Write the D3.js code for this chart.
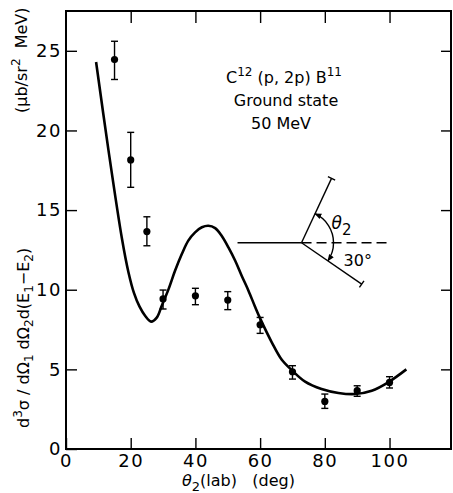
<!DOCTYPE html>
<html>
<head>
<meta charset="utf-8">
<script src="https://cdn.jsdelivr.net/npm/d3@7"></script>
<style>
  body { margin: 0; background: white; }
  text { font-family: "DejaVu Sans", sans-serif; fill: black; white-space: pre; }
</style>
</head>
<body>
<div class="container"></div>
<script>
// measured points with error bars
const angles = [15, 20, 25, 30, 40, 50, 60, 70, 80, 90, 100];
const crossSection = [24.45, 18.15, 13.65, 9.42, 9.62, 9.35, 7.80, 4.85, 2.99, 3.66, 4.18];
const errLow = [23.2, 16.43, 12.76, 8.79, 9.06, 8.75, 7.26, 4.39, 2.55, 3.31, 3.83];
const errHigh = [25.6, 19.88, 14.58, 9.98, 10.09, 9.88, 8.26, 5.23, 3.45, 3.97, 4.54];

// theory curve
const curveAngle = [9.3, 13.1, 17.3, 19.3, 21.0, 22.7, 24.5, 26.3, 28.05, 29.6, 31.7, 33.7, 35.8, 37.8, 39.9, 42.0, 44.0, 46.1, 48.1, 50.2, 52.3, 54.3, 56.4, 58.4, 60.0, 63.6, 66.7, 69.8, 73.9, 79.0, 84.2, 89.3, 94.5, 99.6, 105.2];
const curveValue = [24.3, 18.8, 13.2, 11.1, 9.8, 8.95, 8.35, 8.0, 8.25, 9.0, 10.04, 11.19, 12.24, 13.08, 13.6, 13.92, 14.02, 13.87, 13.39, 12.66, 11.82, 10.88, 9.94, 8.95, 8.2, 6.7, 5.6, 4.95, 4.23, 3.77, 3.52, 3.45, 3.66, 4.19, 5.0];

const xTicks = [0, 20, 40, 60, 80, 100];
const yTicks = [0, 5, 10, 15, 20, 25];

const margin = {top: 11, bottom: 44, right: 2, left: 66},
width = 453 - margin.left - margin.right,
height = 493 - margin.top - margin.bottom;

const svg = d3.select(".container")
  .append("svg")
  .attr("width", width + margin.left + margin.right)
  .attr("height", height + margin.top + margin.bottom);

const group = svg.append("g")
  .attr("transform", `translate(${margin.left},${margin.top})`);

const x_scale = d3.scaleLinear().domain([0, 119]).range([0, width]);
const y_scale = d3.scaleLinear().domain([0, 27.5]).range([height, 0]);

// axes, ticks point inward
group.append("g")
  .attr("transform", `translate(0,${height})`)
  .call(d3.axisBottom(x_scale).tickValues(xTicks).tickSize(-11).tickPadding(5))
  .call(g => g.select(".domain").remove());

group.append("g")
  .call(d3.axisLeft(y_scale).tickValues(yTicks).tickSize(-11).tickPadding(4))
  .call(g => g.select(".domain").remove());

group.append("g")
  .call(d3.axisTop(x_scale).tickValues(xTicks.slice(1)).tickSize(-12).tickFormat(""))
  .call(g => g.select(".domain").remove());

group.append("g")
  .attr("transform", `translate(${width},0)`)
  .call(d3.axisRight(y_scale).tickValues(yTicks.slice(1)).tickSize(-10).tickFormat(""))
  .call(g => g.select(".domain").remove());

group.selectAll(".tick line").attr("stroke", "black").attr("stroke-width", 1.4);
group.selectAll(".tick text")
  .attr("font-size", 18)
  .attr("letter-spacing", 1.5)
  .attr("fill", "black");

group.append("rect")
  .attr("width", width)
  .attr("height", height)
  .attr("fill", "none")
  .attr("stroke", "black")
  .attr("stroke-width", 2);

// curve
const line = d3.line()
  .curve(d3.curveCatmullRom)
  .x(i => x_scale(curveAngle[i]))
  .y(i => y_scale(curveValue[i]));

group.append("path")
  .datum(d3.range(curveAngle.length))
  .attr("fill", "none")
  .attr("stroke", "black")
  .attr("stroke-width", 2.6)
  .attr("stroke-linejoin", "round")
  .attr("d", line);

// error bars + points
const pts = group.append("g")
  .selectAll("g")
  .data(d3.range(angles.length))
  .join("g")
  .attr("stroke", "black")
  .attr("stroke-width", 1.4);

pts.append("line")
  .attr("x1", i => x_scale(angles[i])).attr("x2", i => x_scale(angles[i]))
  .attr("y1", i => y_scale(errLow[i])).attr("y2", i => y_scale(errHigh[i]));
pts.append("line")
  .attr("x1", i => x_scale(angles[i]) - 3.5).attr("x2", i => x_scale(angles[i]) + 3.5)
  .attr("y1", i => y_scale(errLow[i])).attr("y2", i => y_scale(errLow[i]));
pts.append("line")
  .attr("x1", i => x_scale(angles[i]) - 3.5).attr("x2", i => x_scale(angles[i]) + 3.5)
  .attr("y1", i => y_scale(errHigh[i])).attr("y2", i => y_scale(errHigh[i]));
pts.append("circle")
  .attr("cx", i => x_scale(angles[i]))
  .attr("cy", i => y_scale(crossSection[i]))
  .attr("r", 3.6)
  .attr("fill", "black")
  .attr("stroke", "none");

// reaction label
const note = group.append("g")
  .attr("font-size", 16)
  .attr("text-anchor", "middle");
const t1 = note.append("text").attr("x", 218).attr("y", 72);
t1.append("tspan").text("C");
t1.append("tspan").attr("font-size", 12).attr("dy", -7).text("12");
t1.append("tspan").attr("dy", 7).text(" (p, 2p) B");
t1.append("tspan").attr("font-size", 12).attr("dy", -7).text("11");
note.append("text").attr("x", 220).attr("y", 95).text("Ground state");
note.append("text").attr("x", 215).attr("y", 118).text("50 MeV");

// kinematics inset
const vx = x_scale(72.8), vy = y_scale(12.95);
const r = 32, upA = 65 * Math.PI / 180, loA = 34.5 * Math.PI / 180;
const inset = group.append("g").attr("stroke", "black").attr("stroke-width", 1.4).attr("fill", "none");

svg.append("defs").append("marker")
  .attr("id", "arrow")
  .attr("viewBox", "0 0 10 10")
  .attr("refX", 9).attr("refY", 5)
  .attr("markerWidth", 7).attr("markerHeight", 7)
  .attr("markerUnits", "userSpaceOnUse")
  .attr("orient", "auto")
  .append("path").attr("d", "M0,1L10,5L0,9Z").attr("fill", "black");

inset.append("line").attr("x1", vx - 64).attr("x2", vx).attr("y1", vy).attr("y2", vy);
inset.append("line").attr("x1", vx).attr("x2", vx + 89).attr("y1", vy).attr("y2", vy)
  .attr("stroke-dasharray", "10,5");

function arm(a, len) {
  const ex = vx + len * Math.cos(a), ey = vy - len * Math.sin(a);
  inset.append("line").attr("x1", vx).attr("y1", vy).attr("x2", ex).attr("y2", ey);
  const px = 4 * Math.sin(a), py = 4 * Math.cos(a);
  inset.append("line").attr("x1", ex - px).attr("y1", ey - py).attr("x2", ex + px).attr("y2", ey + py);
}
arm(upA, 71);
arm(-loA, 73);

inset.append("path")
  .attr("d", `M${vx + r},${vy}A${r},${r} 0 0 0 ${vx + r * Math.cos(upA)},${vy - r * Math.sin(upA)}`)
  .attr("marker-end", "url(#arrow)");
inset.append("path")
  .attr("d", `M${vx + r},${vy}A${r},${r} 0 0 1 ${vx + r * Math.cos(loA)},${vy + r * Math.sin(loA)}`)
  .attr("marker-end", "url(#arrow)");

const th = group.append("text").attr("x", vx + 30).attr("y", vy - 14).attr("font-size", 17);
th.append("tspan").attr("font-style", "italic").text("θ");
th.append("tspan").attr("font-size", 15).attr("dy", 6).text("2");
group.append("text").attr("x", vx + 42).attr("y", vy + 23).attr("font-size", 16).text("30°");

// axis titles
const xt = group.append("text").attr("x", 116).attr("y", height + 37).attr("font-size", 16);
xt.append("tspan").attr("font-style", "italic").text("θ");
xt.append("tspan").attr("font-size", 13).attr("dy", 5).text("2");
xt.append("tspan").attr("dy", -5).text("(lab)   (deg)");

const yt = svg.append("text")
  .attr("transform", "translate(29,428) rotate(-90)")
  .attr("font-size", 16);
yt.append("tspan").text("d");
yt.append("tspan").attr("font-size", 12).attr("dy", -7).text("3");
yt.append("tspan").attr("dy", 7).text("σ / dΩ");
yt.append("tspan").attr("font-size", 12).attr("dy", 4).text("1");
yt.append("tspan").attr("dy", -4).text(" dΩ");
yt.append("tspan").attr("font-size", 12).attr("dy", 4).text("2");
yt.append("tspan").attr("dy", -4).text("d(E");
yt.append("tspan").attr("font-size", 12).attr("dy", 4).text("1");
yt.append("tspan").attr("dy", -4).text("−E");
yt.append("tspan").attr("font-size", 12).attr("dy", 4).text("2");
yt.append("tspan").attr("dy", -4).text(")");

const yu = svg.append("text")
  .attr("transform", "translate(27,113) rotate(-90)")
  .attr("font-size", 16);
yu.append("tspan").text("(μb/sr");
yu.append("tspan").attr("font-size", 12).attr("dy", -7).text("2");
yu.append("tspan").attr("dy", 7).text("  MeV)");
</script>
</body>
</html>
